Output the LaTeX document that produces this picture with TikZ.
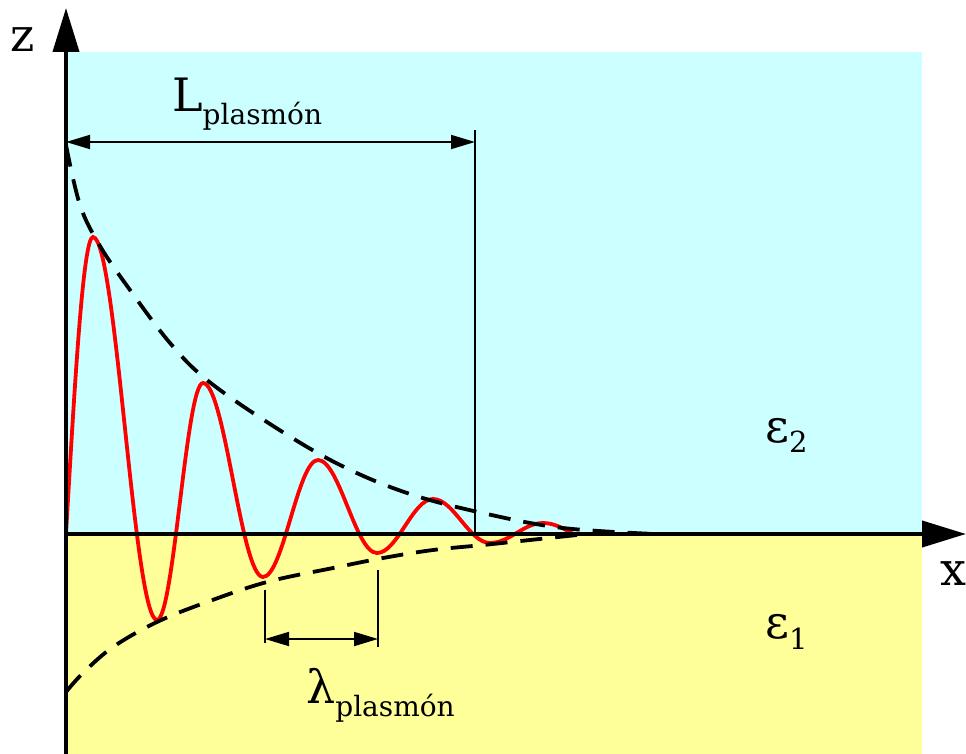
\documentclass[tikz,border=0pt]{standalone}
\usepackage{fontspec}
\setmainfont{DejaVu Serif}
\newfontfamily\labfont{DejaVu Serif}
\usetikzlibrary{arrows.meta}
\newcommand{\subfnt}{\labfont\fontsize{28}{32}\selectfont}
\newcommand{\digfnt}{\labfont\fontsize{29}{32}\selectfont}
\definecolor{cyanbg}{HTML}{CCFFFF}
\definecolor{yellowbg}{HTML}{FFFF99}
\definecolor{wavered}{HTML}{FF0000}
\tikzset{
  lab/.style={font=\labfont\fontsize{46}{52}\selectfont, inner sep=0pt, anchor=base west},
  axisline/.style={line width=4pt, -{Triangle[length=44pt,width=26pt]}},
  thinline/.style={line width=1.8pt},
  dimarrow/.style={line width=1.8pt, {Triangle[length=24pt,width=14pt]}-{Triangle[length=24pt,width=14pt]}},
  envelope/.style={line width=3.8pt, dash pattern=on 22pt off 13pt},
  wave/.style={line width=3.8pt, wavered}
}
\begin{document}
\begin{tikzpicture}[x=1pt,y=-1pt]
\useasboundingbox (0,0) rectangle (966,754);
% media
\fill[cyanbg] (66,52) rectangle (922,534);
\fill[yellowbg] (66,534) rectangle (922,754);
% coordinates
\coordinate (O) at (66,534);
\coordinate (zbot) at (66,754);
\coordinate (ztop) at (66,8);
\coordinate (xtip) at (966,534);
\coordinate (La) at (66,142);
\coordinate (Lb) at (475,142);
\coordinate (Ltop) at (475,130);
\coordinate (Lbot) at (475,534);
\coordinate (la1t) at (265,590);
\coordinate (la1b) at (265,643);
\coordinate (la2t) at (378,570);
\coordinate (la2b) at (378,647);
\coordinate (lam1) at (265,639);
\coordinate (lam2) at (378,639);
% red wave
\draw[wave] (O)
  .. controls (74.8,382) and (83.2,237) .. (93,237)
  .. controls (116.3,237) and (133.7,620) .. (157,620)
  .. controls (173.7,620) and (186.3,383) .. (203,383)
  .. controls (224.8,383) and (241.2,577) .. (263,577)
  .. controls (283,577) and (298,460) .. (318,460)
  .. controls (339.4,460) and (355.6,553) .. (377,553)
  .. controls (397.4,553) and (412.6,499) .. (433,499)
  .. controls (453.7,499) and (469.3,543) .. (490,543)
  .. controls (509.3,543) and (523.7,523) .. (543,523)
  .. controls (554.6,523) and (564.6,529.1) .. (575,535);
% envelopes
\draw[envelope] plot[smooth, tension=0.6] coordinates {
  (66,145) (80,205) (100,246) (130,290) (170,343) (207,380) (270,424) (340,465)
  (410,494) (487,514) (563,528) (655,534)};
\draw[envelope] plot[smooth, tension=0.6] coordinates {
  (66,692) (83,673) (113,647) (157,622) (207,602) (267,582) (333,568)
  (383,558) (433,550) (483,545) (530,540) (577,535)};
% L dimension
\draw[thinline] (Ltop) -- (Lbot);
\draw[dimarrow] (La) -- (Lb);
% lambda dimension
\draw[thinline] (la1t) -- (la1b);
\draw[thinline] (la2t) -- (la2b);
\draw[dimarrow] (lam1) -- (lam2);
% axes
\draw[axisline] (zbot) -- (ztop);
\draw[axisline] (O) -- (xtip);
% labels
\node[lab] (zl) at (10,52) {z};
\node[lab] (xl) at (940,585) {x};
\node[lab] (Ll) at (172,112) {L\raisebox{-13pt}{\subfnt plasmón}};
\node[lab] (lml) at (306,703) {λ\raisebox{-13pt}{\subfnt plasmón}};
\node[lab] (e2) at (765,442) {ε\raisebox{-10pt}{\digfnt 2}};
\node[lab] (e1) at (765,638) {ε\raisebox{-11pt}{\digfnt 1}};
\end{tikzpicture}
\end{document}
